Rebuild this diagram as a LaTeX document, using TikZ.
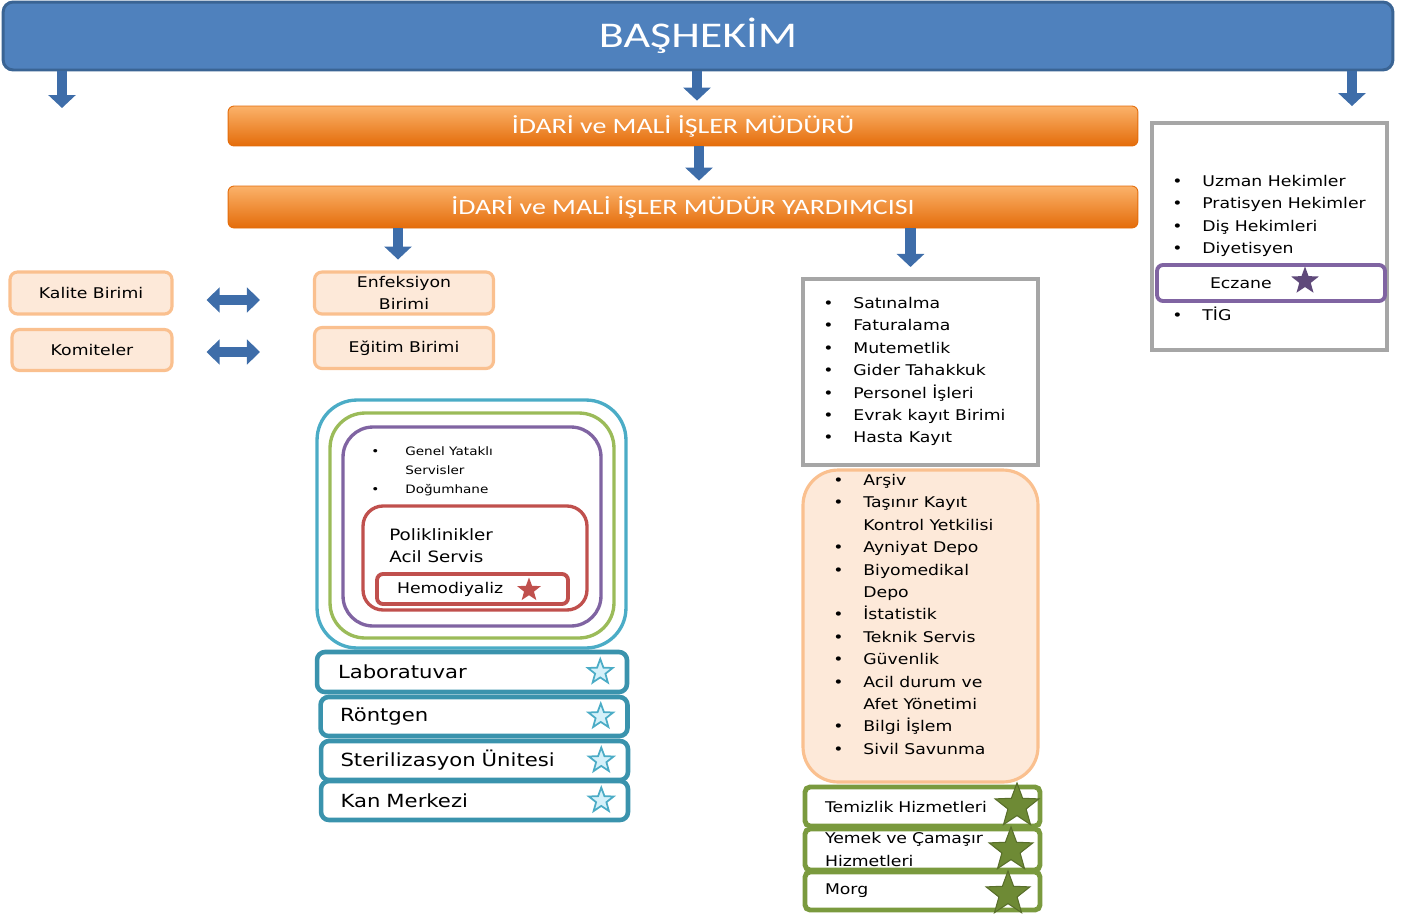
\documentclass[tikz,border=0pt]{standalone}
\usepackage{fontspec}
\setmainfont{DejaVu Sans}[FakeStretch=1.17]
\newfontfamily\hdfont{Carlito}[FakeStretch=1.27]
\usepackage{xcolor}
\usepackage{tikz}
\usetikzlibrary{arrows.meta,positioning,calc,shapes.geometric}

\definecolor{basblue}{HTML}{4F81BD}
\definecolor{basdraw}{HTML}{3A6494}
\definecolor{arrowblue}{HTML}{3E6DA9}
\definecolor{orangetop}{HTML}{FBB26A}
\definecolor{orangebot}{HTML}{E46C0A}
\definecolor{peachfill}{HTML}{FDE9D9}
\definecolor{peachdraw}{HTML}{FAC08F}
\definecolor{tealc}{HTML}{4BACC6}
\definecolor{tealdark}{HTML}{3A93AD}
\definecolor{olivec}{HTML}{9BBB59}
\definecolor{olivedark}{HTML}{7A9A3E}
\definecolor{starolive}{HTML}{6E8A35}
\definecolor{purplec}{HTML}{8064A2}
\definecolor{purpledark}{HTML}{5F497A}
\definecolor{redc}{HTML}{C0504D}
\definecolor{grayline}{HTML}{A6A6A6}
\definecolor{starfill}{HTML}{D4F1FA}

\newcommand{\txtn}{\fontsize{8.4}{12.75}\selectfont}
\newcommand{\txtb}{\fontsize{10.3}{13}\selectfont}
\newcommand{\txtm}{\fontsize{8.9}{12.5}\selectfont}
\newcommand{\txts}{\fontsize{6.6}{11}\selectfont}
\newcommand{\blt}[1][0.6cm]{\makebox[#1][l]{\textbullet}}
\newcommand{\indt}[1][0.6cm]{\hspace*{#1}}

\tikzset{
  headbar/.style={draw=basdraw, line width=1.7pt, fill=basblue, rounded corners=0.2cm,
    minimum width=27.8cm, minimum height=1.36cm, text=white,
    font=\hdfont\fontsize{20.6}{24}\selectfont},
  orangebar/.style={top color=orangetop, bottom color=orangebot, draw=orangebot, line width=0.5pt,
    rounded corners=0.12cm, minimum width=18.2cm, text=white,
    font=\hdfont\fontsize{12.5}{15}\selectfont},
  unitbox/.style={draw=peachdraw, line width=1.8pt, fill=peachfill, rounded corners=0.15cm,
    minimum width=3.24cm, minimum height=0.84cm, inner ysep=1pt, align=center, font=\txtn},
  nest/.style={line width=1.9pt, inner sep=0pt},
  tealbox/.style={draw=tealdark, line width=2.6pt, rounded corners=0.16cm,
    minimum width=6.14cm, minimum height=0.78cm, text width=5.36cm, align=left, font=\txtb},
  graybox/.style={draw=grayline, line width=2.3pt, fill=white, minimum width=4.7cm, inner sep=0pt},
  peachbox/.style={draw=peachdraw, line width=1.8pt, fill=peachfill, rounded corners=0.7cm,
    minimum width=4.7cm, minimum height=6.24cm, inner sep=0pt},
  greenbox/.style={draw=olivedark, line width=2.8pt, rounded corners=0.1cm, inner ysep=0pt,
    minimum width=4.7cm, text width=3.9cm, align=left, font=\txtn},
  eczbox/.style={draw=purplec, line width=2.2pt, rounded corners=0.12cm,
    minimum width=4.56cm, minimum height=0.72cm, text width=2.44cm, align=left, font=\txtn},
  listtext/.style={inner sep=0pt, align=left, font=\txtn, anchor=north west},
  downarr/.style={-{Triangle[length=7.4pt,width=15.3pt]}, line width=6.2pt, draw=arrowblue},
  dblarrow/.style={{Triangle[length=7.4pt,width=14pt]}-{Triangle[length=7.4pt,width=14pt]},
    line width=5.6pt, draw=arrowblue},
  starbase/.style={star, star points=5, star point ratio=2.4, inner sep=0pt},
  bluestar/.style={starbase, draw=tealc, fill=starfill, line width=1pt, minimum size=0.52cm},
  greenstar/.style={starbase, draw=starolive!80!black, fill=starolive, line width=0.6pt, minimum size=0.92cm},
  redstar/.style={starbase, fill=redc, minimum size=0.5cm},
  purplestar/.style={starbase, fill=purpledark, minimum size=0.58cm},
}

\begin{document}
\begin{tikzpicture}[x=0.02cm, y=-0.02cm]
  \useasboundingbox (0,0) rectangle (1416,913);

  % management
  \node[headbar] (bas) at (698,36) {BAŞHEKİM};
  \node[orangebar, minimum height=0.8cm] (mudur) at (683,126) {İDARİ ve MALİ İŞLER MÜDÜRÜ};
  \node[orangebar, minimum height=0.84cm] (yard) at (683,207) {İDARİ ve MALİ İŞLER MÜDÜR YARDIMCISI};

  % units
  \node[unitbox] (kalite) at (91,293) {Kalite Birimi};
  \node[unitbox, minimum width=3.2cm, minimum height=0.82cm] (komite) at (92,350) {Komiteler};
  \node[unitbox, minimum width=3.58cm] (enfek) at (404,293) {Enfeksiyon\\Birimi};
  \node[unitbox, minimum width=3.58cm, minimum height=0.82cm] (egitim) at (404,348) {Eğitim Birimi};

  % clinical services (nested frames)
  \node[nest, draw=tealc, rounded corners=0.8cm, minimum width=6.18cm, minimum height=4.96cm] (klinik) at (471.5,524) {};
  \node[nest, draw=olivec, rounded corners=0.7cm, minimum width=5.68cm, minimum height=4.5cm] (yatak) at (472,525.5) {};
  \node[nest, draw=purplec, rounded corners=0.6cm, minimum width=5.16cm, minimum height=3.98cm] (servis) at (472,526.5) {};
  \node[nest, draw=redc, rounded corners=0.4cm, minimum width=4.48cm, minimum height=2.08cm] (polik) at (475,558) {};
  \node[nest, draw=redc, line width=2.2pt, rounded corners=0.12cm, minimum width=3.82cm, minimum height=0.6cm,
    text width=3.02cm, align=left, font=\txtn] (hemo) at (472.5,589) {Hemodiyaliz};
  \node[redstar] (hemo-star) at (529,590) {};
  \node[listtext, font=\txts] (servistxt) at (371,446)
    {\blt[0.68cm]Genel Yataklı\\\indt[0.68cm]Servisler\\\blt[0.68cm]Doğumhane};
  \node[listtext, font=\txtm] (poliktxt) at (389,528) {Poliklinikler\\Acil Servis};

  \node[tealbox, minimum width=6.2cm, minimum height=0.8cm] (lab) at (472,672) {Laboratuvar};
  \node[tealbox] (ront) at (474,716.5) {Röntgen};
  \node[tealbox] (steril) at (474.5,760.5) {Sterilizasyon Ünitesi};
  \node[tealbox] (kan) at (474.5,800.5) {Kan Merkezi};
  \foreach \b in {lab,ront,steril,kan}
    \node[bluestar] (\b-star) at ([xshift=-0.58cm]\b.east) {};

  % administrative services
  \node[graybox, minimum height=3.72cm] (idari) at (920.5,372) {};
  \node[listtext] (idaritxt) at (823,297)
    {\blt Satınalma\\\blt Faturalama\\\blt Mutemetlik\\\blt Gider Tahakkuk\\
     \blt Personel İşleri\\\blt Evrak kayıt Birimi\\\blt Hasta Kayıt};
  \node[peachbox] (destek) at (920.5,626) {};
  \node[listtext] (destektxt) at (833,474)
    {\blt Arşiv\\\blt Taşınır Kayıt\\\indt Kontrol Yetkilisi\\\blt Ayniyat Depo\\
     \blt Biyomedikal\\\indt Depo\\\blt İstatistik\\\blt Teknik Servis\\\blt Güvenlik\\
     \blt Acil durum ve\\\indt Afet Yönetimi\\\blt Bilgi İşlem\\\blt Sivil Savunma};
  \node[greenbox, minimum height=0.78cm] (temiz) at (922.5,806.5) {Temizlik Hizmetleri};
  \node[greenbox, minimum height=0.82cm] (yemek) at (922.5,849.5) {Yemek ve Çamaşır\\Hizmetleri};
  \node[greenbox, minimum height=0.76cm] (morg) at (922.5,891) {Morg};
  \node[greenstar] (temiz-star) at (1017,806) {};
  \node[greenstar] (yemek-star) at (1011,850) {};
  \node[greenstar] (morg-star) at (1008,894) {};

  % physicians
  \node[graybox, minimum height=4.54cm] (hekim) at (1269.5,236.5) {};
  \node[listtext] (hekimtxt) at (1172,175)
    {\blt Uzman Hekimler\\\blt Pratisyen Hekimler\\\blt Diş Hekimleri\\\blt Diyetisyen};
  \node[eczbox] (eczane) at (1271,283) {Eczane};
  \node[purplestar] (eczane-star) at (1305,281) {};
  \node[listtext] (tig) at (1172,307) {\blt TİG};

  % connections
  \coordinate (tipL) at (62,108);
  \coordinate (mudarr) at ([xshift=0.28cm]mudur.north);
  \coordinate (yardarr) at ([xshift=0.32cm]yard.north);
  \coordinate (hekarr) at ([xshift=1.65cm]hekim.north);
  \coordinate (enfarr) at ([xshift=-0.12cm]enfek.north);
  \coordinate (idarr) at ([xshift=-0.2cm]idari.north);
  \draw[downarr] (bas.south -| tipL) -- (tipL);
  \draw[downarr, shorten >=2.8pt] (bas.south -| mudarr) -- (mudarr);
  \draw[downarr, shorten >=8.5pt] (bas.south -| hekarr) -- (hekarr);
  \draw[downarr, shorten >=2.8pt] (mudur.south -| yardarr) -- (yardarr);
  \draw[downarr, shorten >=6.2pt] (yard.south -| enfarr) -- (enfarr);
  \draw[downarr, shorten >=5.7pt] (yard.south -| idarr) -- (idarr);
  \draw[dblarrow] ([xshift=0.66cm,yshift=-0.14cm]kalite.east) -- ([xshift=-1.06cm,yshift=-0.14cm]enfek.west);
  \draw[dblarrow] ([xshift=0.66cm,yshift=-0.04cm]komite.east) -- ([xshift=-1.06cm,yshift=-0.08cm]egitim.west);
\end{tikzpicture}
\end{document}
